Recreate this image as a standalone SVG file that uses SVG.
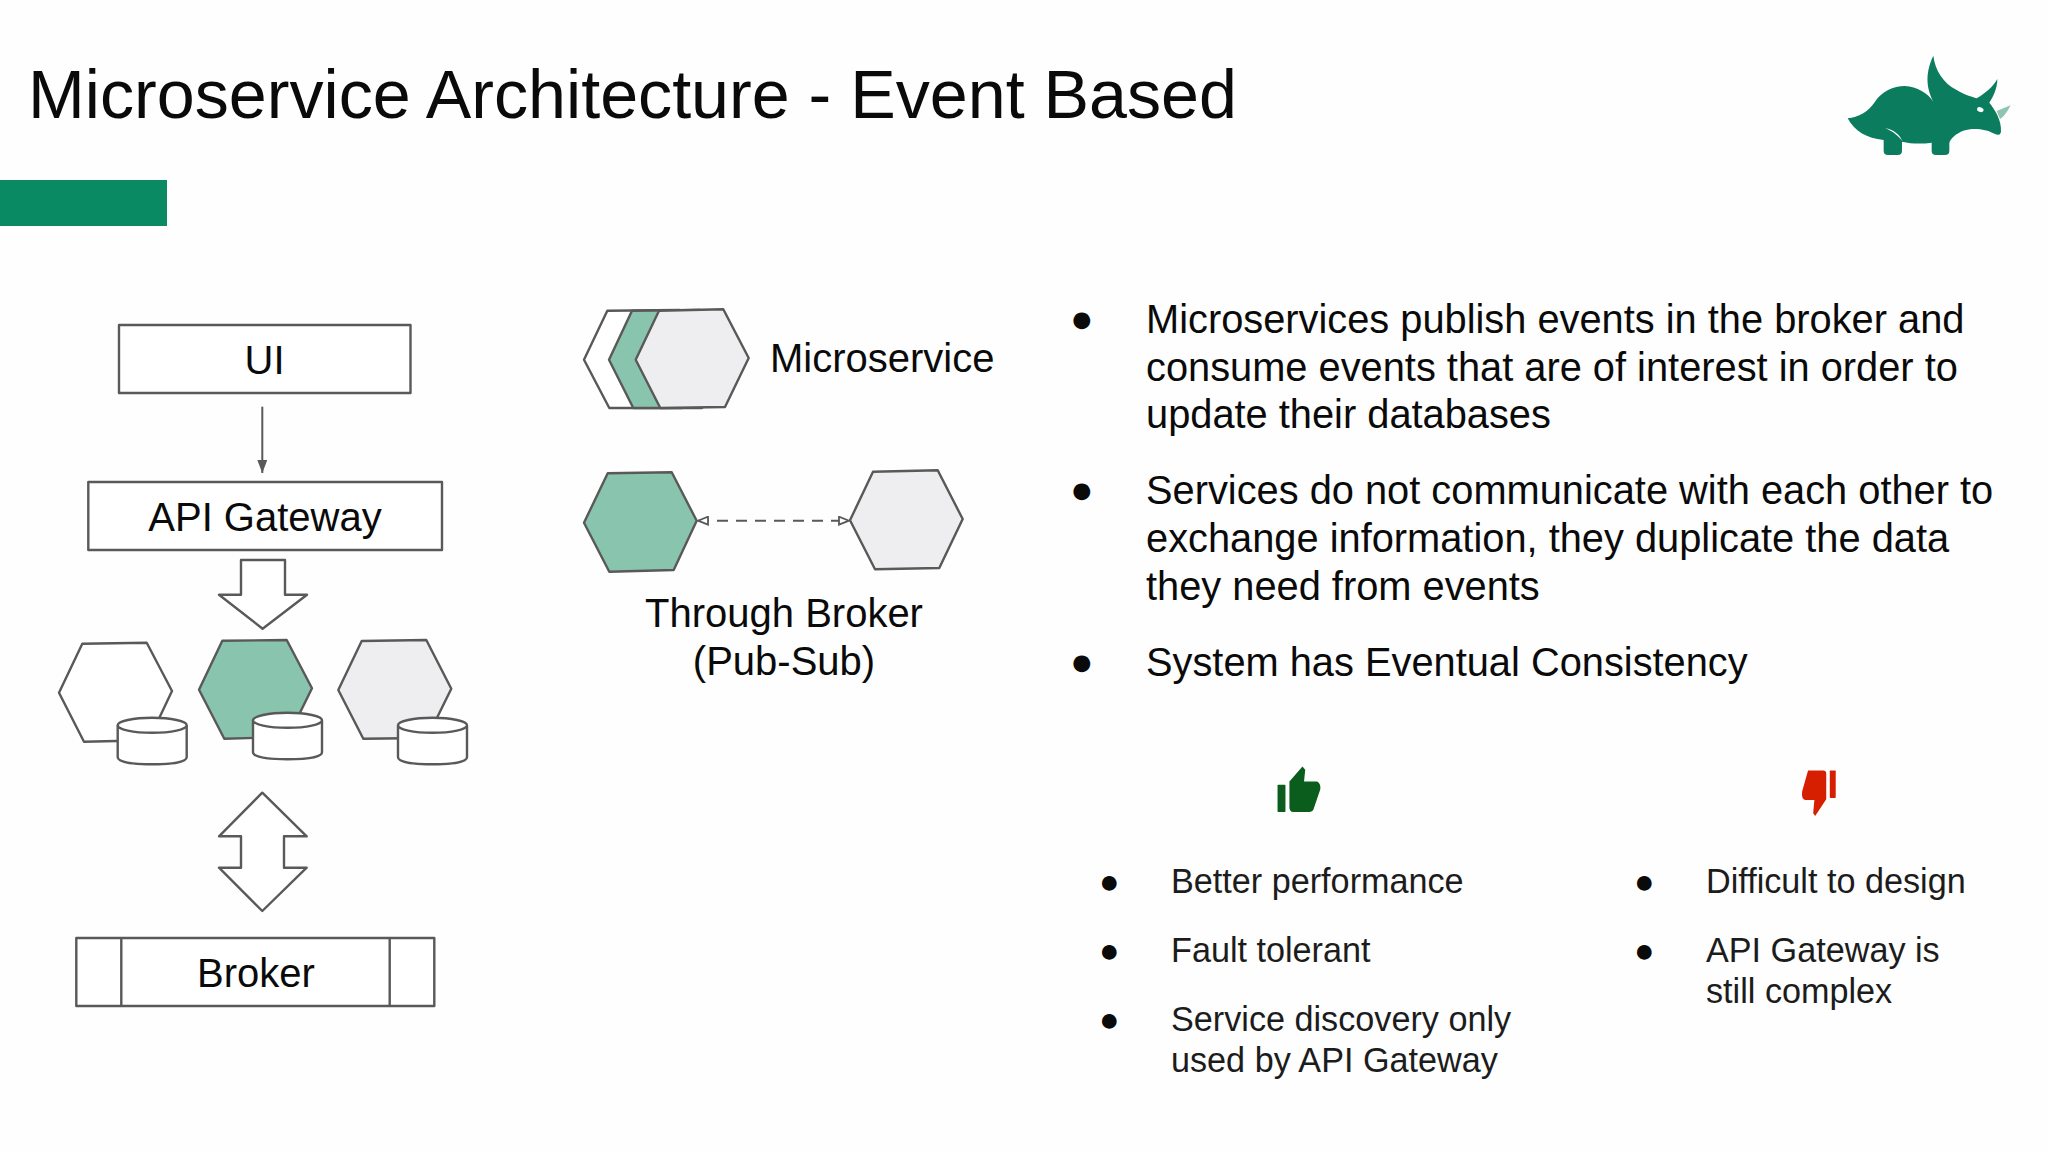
<svg xmlns="http://www.w3.org/2000/svg" width="2048" height="1152" viewBox="0 0 2048 1152">
<defs>
<style>
text{font-family:"Liberation Sans",Arial,sans-serif;fill:#0a0a0a}
.s{stroke:#595959;stroke-width:2.4;stroke-linejoin:round;fill:#fff}
.g{fill:#88c4ae}.e{fill:#eeedf0}
.t{font-size:40px;text-anchor:middle}
.b{font-size:39.800px}.c{font-size:34.200px;fill:#1c1c1c}
.d{font-size:39px}.f{font-size:34px}
</style>
<marker id="solid" viewBox="0 0 10 10" refX="10" refY="5" markerWidth="13" markerHeight="10" markerUnits="userSpaceOnUse" orient="auto" preserveAspectRatio="none"><path d="M0,0L10,5L0,10Z" fill="#595959"/></marker>
<marker id="open" viewBox="0 0 12 10" refX="11" refY="5" markerWidth="12" markerHeight="10" markerUnits="userSpaceOnUse" orient="auto-start-reverse"><path d="M1,1L11,5L1,9Z" fill="#fff" stroke="#595959" stroke-width="1.8"/></marker>
<g id="cyl"><path class="s" d="M0,8V40C0,45 15,47 34.500,47S69,45 69,40V8"/><ellipse class="s" cx="34.500" cy="8" rx="34.500" ry="7.500"/></g>
</defs>
<rect width="2048" height="1152" fill="#fefefe"/>
<text id="title" x="28" y="118" font-size="68.200">Microservice Architecture - Event Based</text>
<rect id="accent" x="0" y="180" width="167" height="46" fill="#0a8a62"/>
<g id="logo" transform="translate(1800,30) scale(.33333)">
<path fill="#0b7d5e" d="M143,265C175,262 205,245 225,215C245,185 280,168 315,168C350,170 385,190 400,215C382,180 372,135 400,77C405,120 430,160 470,180C495,195 515,200 530,205C555,190 580,170 592,147C592,175 580,200 568,218C585,240 605,270 603,305C600,318 590,315 580,310C560,298 520,292 490,302C470,310 450,325 448,340L448,362Q448,375 435,375L408,375Q395,375 395,362L395,338C365,342 335,342 306,335L306,362Q306,375 293,375L264,375Q251,375 251,362L251,330C200,325 165,305 143,265Z"/>
<path fill="#fff" d="M255,295C280,298 300,315 307,333C295,318 278,303 255,295Z"/>
<ellipse cx="541" cy="239" rx="10" ry="7" fill="#fff" transform="rotate(20 541 239)"/>
<path fill="#8ec5b0" d="M590,243L632,226C622,245 612,260 600,267Z"/>
</g>
<g id="connectors">
<path d="M262.300,406.700V473" stroke="#595959" stroke-width="2" fill="none" marker-end="url(#solid)"/>
<path d="M698,520.700H849" stroke="#595959" stroke-width="2" stroke-dasharray="11 8" fill="none" marker-start="url(#open)" marker-end="url(#open)"/>
<path id="arrow-down" class="s" d="M241,560H285V594.700H307L262.600,628.700L219,594.700H241Z"/>
<path id="arrow-both" class="s" d="M262.300,792.700L306.700,836.300H284V867.700H306.700L262.300,911L219,867.700H241V836.300H219Z"/>
</g>
<g id="ui"><rect class="s" x="119" y="325" width="291.500" height="68"/><text class="t" x="264.500" y="374">UI</text></g>
<g id="api-gateway"><rect class="s" x="88.300" y="482" width="353.700" height="68"/><text class="t" x="265" y="531">API Gateway</text></g>
<g id="service-1"><path class="s" d="M82.300,643.700L146.700,642.700L172,691L148.700,740.300L84,741.700L59,692.700Z"/><use href="#cyl" x="117.700" y="717.300"/></g>
<g id="service-2"><path class="s g" d="M222.300,640.700L286.700,640L312,688.300L288,737L224.300,738.700L199,689.700Z"/><use href="#cyl" x="253" y="712.300"/></g>
<g id="service-3"><path class="s e" d="M361.700,641L426.300,640L451.300,688.700L427,738L363.300,738.700L338.300,690Z"/><use href="#cyl" x="398" y="717.300"/></g>
<g id="broker"><rect class="s" x="76.300" y="938" width="358" height="68"/><path class="s" d="M121.300,938V1006M389.700,938V1006"/><text class="t" x="256" y="987">Broker</text></g>
<g id="microservice-legend">
<path class="s" d="M607.300,310.700L680,310L705,358L682,408L609.300,408L584,359.700Z"/>
<path class="s g" d="M632,310.700L700,310L725,358L702,408L633.300,408L609,359.700Z"/>
<path class="s e" d="M659,310.700L723.300,309.300L748.700,358L725,407L660.300,408L635.700,359.700Z"/>
<text x="770" y="372" font-size="40">Microservice</text>
</g>
<g id="hex-green"><path class="s g" d="M607.700,473.300L671.700,472.300L696.700,520.700L673.700,570L609.300,571.700L584,522.700Z"/></g>
<g id="hex-gray"><path class="s e" d="M873,471.700L937.700,470.300L962.700,519L939.300,568L875,569.300L850,520.300Z"/></g>
<text class="t" x="784" y="627">Through Broker</text>
<text class="t" x="784" y="675">(Pub-Sub)</text>
<g id="main-bullets">
<text class="d" x="1070" y="332">●</text><text class="b" x="1146" y="333">Microservices publish events in the broker and</text>
<text class="b" x="1146" y="381">consume events that are of interest in order to</text>
<text class="b" x="1146" y="428">update their databases</text>
<text class="d" x="1070" y="503">●</text><text class="b" x="1146" y="504">Services do not communicate with each other to</text>
<text class="b" x="1146" y="552">exchange information, they duplicate the data</text>
<text class="b" x="1146" y="600">they need from events</text>
<text class="d" x="1070" y="675">●</text><text class="b" x="1146" y="676">System has Eventual Consistency</text>
</g>
<g id="thumb-up" fill="#0b5d1e" transform="translate(1240,740) scale(.3953)"><rect x="95" y="113" width="20" height="69" rx="2"/><path d="M125,105L158,67L165,75L162,105L195,105Q205,110 203,125L186,175Q183,182 175,182L135,182Q125,182 125,170Z"/></g>
<g id="thumb-down" fill="#d61f00" transform="translate(1240,740) scale(.3953)"><rect x="1492" y="77" width="15" height="70" rx="2"/><path d="M1437,77L1475,77Q1483,77 1483,85L1483,150L1455,192L1450,185L1453,152L1430,152Q1420,150 1422,130Z"/></g>
<g id="pros">
<text class="f" x="1099" y="893">●</text><text class="c" x="1171" y="893">Better performance</text>
<text class="f" x="1099" y="962">●</text><text class="c" x="1171" y="962">Fault tolerant</text>
<text class="f" x="1099" y="1031">●</text><text class="c" x="1171" y="1031">Service discovery only</text>
<text class="c" x="1171" y="1072">used by API Gateway</text>
</g>
<g id="cons">
<text class="f" x="1634" y="893">●</text><text class="c" x="1706" y="893">Difficult to design</text>
<text class="f" x="1634" y="962">●</text><text class="c" x="1706" y="962">API Gateway is</text>
<text class="c" x="1706" y="1003">still complex</text>
</g>
</svg>
